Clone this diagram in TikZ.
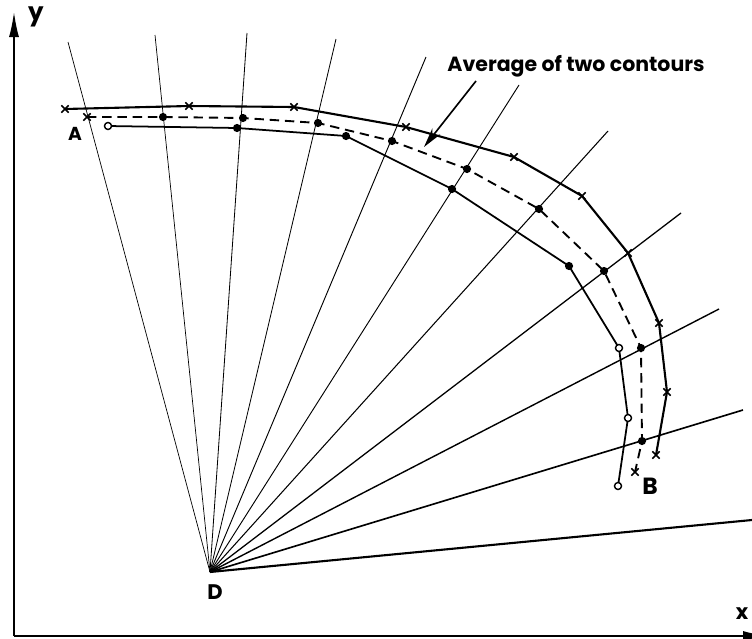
\documentclass[tikz,border=0pt]{standalone}
\usepackage{fontspec}
\setmainfont{Poppins}
\usetikzlibrary{arrows.meta,shapes.misc}

\begin{document}
\begin{tikzpicture}[x=0.03cm,y=-0.03cm,
  contour/.style={line width=1.8pt,line join=round},
  xmark/.style={draw,cross out,inner sep=0pt,minimum size=5pt,line width=1.3pt},
  fdot/.style={circle,fill,inner sep=0pt,minimum size=7pt},
  ring/.style={circle,draw,fill=white,inner sep=0pt,minimum size=6pt,line width=1.2pt},
  lbl/.style={font=\fontsize{18}{18}\selectfont\bfseries}]
\useasboundingbox (0,0) rectangle (752,638);

% axes
\draw[line width=1.3pt,-{Latex[length=0.75cm,width=0.3cm]}] (14,636) -- (14,12);
\draw[line width=1.3pt,-{Latex[length=0.75cm,width=0.3cm]}] (14,636) -- (768,636);
\node[lbl,font=\fontsize{21}{21}\selectfont\bfseries] (ylab) at (36,17) {y};
\node[lbl] (xlab) at (742,614) {x};

% rays from D
\coordinate (D) at (210,572);
\foreach \ex/\ey/\w in {68/42/0.6,155/35/0.6,247/33/0.7,336/39/0.7,426/57/0.8,519/85/0.8,
                        608/131/0.9,681/213/1.1,719/309/1.2,743/410/1.4,752/520/1.8}
  \draw[line width=\w pt] (D) -- (\ex,\ey);
\node[lbl] (Dlab) at (215,592) {D};

% outer contour
\foreach \px/\py [count=\i] in {65/109,189/106,294/107,406/127,514/157,
                               582/196,628/253,659/323,667/392,656/455}
  \coordinate (o\i) at (\px,\py);
\draw[contour] (o1) \foreach \i in {2,...,10}{ -- (o\i)};
\foreach \i in {1,...,10} \node[xmark] at (o\i) {};

% inner contour
\foreach \px/\py [count=\i] in {108/126,237/128,346/136,452/189,569/266,
                               619/348,628/418,618/486}
  \coordinate (n\i) at (\px,\py);
\draw[contour,line width=1.5pt] (n1) \foreach \i in {2,...,8}{ -- (n\i)};
\foreach \i in {2,...,5} \node[fdot] at (n\i) {};
\foreach \i in {1,6,7,8} \node[ring] at (n\i) {};

% average contour
\foreach \px/\py [count=\i] in {87/117,163/117,243/118,318/123,392/141,467/169,
                               539/209,604/271,641/348,642/441,635/472}
  \coordinate (m\i) at (\px,\py);
\draw[contour,line width=1.6pt,dash pattern=on 8pt off 5pt] (m1) \foreach \i in {2,...,11}{ -- (m\i)};
\foreach \i in {2,...,10} \node[fdot] at (m\i) {};
\foreach \i in {1,11} \node[xmark] at (m\i) {};

\node[lbl,font=\fontsize{16}{16}\selectfont\bfseries] (A) at (75,134) {A};
\node[lbl,font=\fontsize{20}{20}\selectfont\bfseries] (B) at (650,486) {B};

% caption
\node[font=\fontsize{17.5}{17.5}\selectfont\bfseries] (avg) at (576,66) {Average of two contours};
\coordinate (tip) at (424,147);
\draw[line width=1.4pt,-{Stealth[length=0.6cm,width=0.3cm]}] (476,81) -- (tip);
\end{tikzpicture}
\end{document}
